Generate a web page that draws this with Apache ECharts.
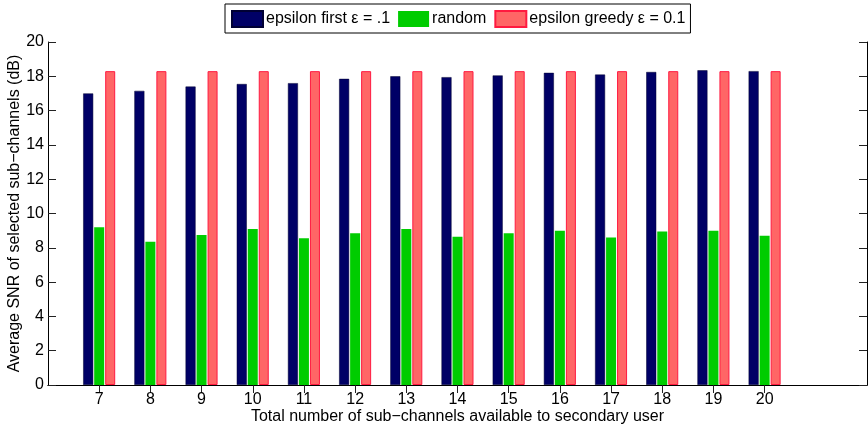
<!DOCTYPE html>
<html>
<head>
<meta charset="utf-8">
<script src="https://cdn.jsdelivr.net/npm/echarts@6/dist/echarts.min.js"></script>
<style>
  html, body { margin: 0; padding: 0; background: #fff; }
  #chart { width: 868px; height: 427px; }
</style>
</head>
<body>
<div id="chart"></div>
<script>
// sub-channel counts shown on the x axis
var channels = [7, 8, 9, 10, 11, 12, 13, 14, 15, 16, 17, 18, 19, 20]
var epsFirst = [17.0, 17.15, 17.4, 17.55, 17.6, 17.85, 18.0, 17.95, 18.05, 18.2, 18.1, 18.25, 18.35, 18.3]
var randomSel = [9.2, 8.35, 8.75, 9.1, 8.55, 8.85, 9.1, 8.65, 8.85, 9.0, 8.6, 8.95, 9.0, 8.7]
var epsGreedy = [18.3, 18.3, 18.3, 18.3, 18.3, 18.3, 18.3, 18.3, 18.3, 18.3, 18.3, 18.3, 18.3, 18.3]
var yTicks = { min: 0, max: 20, interval: 2 }

var font = 'Liberation Sans'
var last = channels[channels.length - 1]
// axis runs one step before the first count and two after the last
var axisData = [channels[0] - 1].concat(channels, [last + 1, last + 2])
var pad = function (arr) { return [null].concat(arr) }
var shown = function (i) { return i >= 1 && i <= channels.length }

var echart = echarts.init(document.getElementById('chart'))
var options = {
    animation: false,
    textStyle: { fontFamily: font },
    legend: {
        left: 225, top: 4,
        padding: [6, 5, 5, 6],
        itemGap: 8,
        itemWidth: 31, itemHeight: 16,
        icon: 'rect',
        borderColor: '#000', borderWidth: 1,
        textStyle: { fontFamily: font, fontSize: 16, color: '#000', padding: [0, 0, 0, -2] }
    },
    grid: { left: 48, top: 42, width: 819, height: 343, outerBoundsMode: 'none', containLabel: false },
    xAxis: [{
        type: 'category',
        data: axisData,
        boundaryGap: false,
        name: 'Total number of sub\u2212channels available to secondary user',
        nameLocation: 'middle',
        nameGap: 24,
        nameMoveOverlap: false,
        nameTextStyle: { fontFamily: font, fontSize: 16, color: '#000' },
        axisLine: { lineStyle: { color: '#000', width: 1 } },
        axisTick: { inside: true, length: 8, interval: shown, lineStyle: { color: '#222' } },
        axisLabel: { interval: shown, margin: 7, fontFamily: font, fontSize: 16, color: '#000' },
        splitLine: { show: false }
    }, {
        type: 'category',
        position: 'top',
        data: axisData,
        boundaryGap: false,
        axisLine: { lineStyle: { color: '#000', width: 1 } },
        axisTick: { inside: true, length: 8, interval: shown, lineStyle: { color: '#222' } },
        axisLabel: { show: false },
        splitLine: { show: false }
    }],
    yAxis: [{
        type: 'value',
        min: yTicks.min, max: yTicks.max, interval: yTicks.interval,
        name: 'Average SNR of selected sub\u2212channels (dB)',
        nameLocation: 'middle',
        nameGap: 25,
        nameMoveOverlap: false,
        nameTextStyle: { fontFamily: font, fontSize: 16, color: '#000' },
        axisLine: { show: true, lineStyle: { color: '#000', width: 1 } },
        axisTick: { show: true, inside: true, length: 8, lineStyle: { color: '#222' } },
        axisLabel: { margin: 4, fontFamily: font, fontSize: 16, color: '#000' },
        splitLine: { show: false }
    }, {
        type: 'value',
        position: 'right',
        min: yTicks.min, max: yTicks.max, interval: yTicks.interval,
        axisLine: { show: true, lineStyle: { color: '#000', width: 1 } },
        axisTick: { show: true, inside: true, length: 8, lineStyle: { color: '#222' } },
        axisLabel: { show: false },
        splitLine: { show: false }
    }],
    series: [{
        name: 'epsilon first \u03b5 = .1',
        type: 'bar',
        data: pad(epsFirst),
        barWidth: 10,
        barGap: '10%',
        itemStyle: { color: '#000066', borderColor: '#000033', borderWidth: 0.5 }
    }, {
        name: 'random',
        type: 'bar',
        data: pad(randomSel),
        barWidth: 10,
        barGap: '10%',
        itemStyle: { color: '#00cc00' }
    }, {
        name: 'epsilon greedy \u03b5 = 0.1',
        type: 'bar',
        data: pad(epsGreedy),
        barWidth: 10,
        barGap: '10%',
        itemStyle: { color: '#ff6666', borderColor: '#ff1a40', borderWidth: 1 }
    }]
}
echart.setOption(options)
</script>
</body>
</html>
